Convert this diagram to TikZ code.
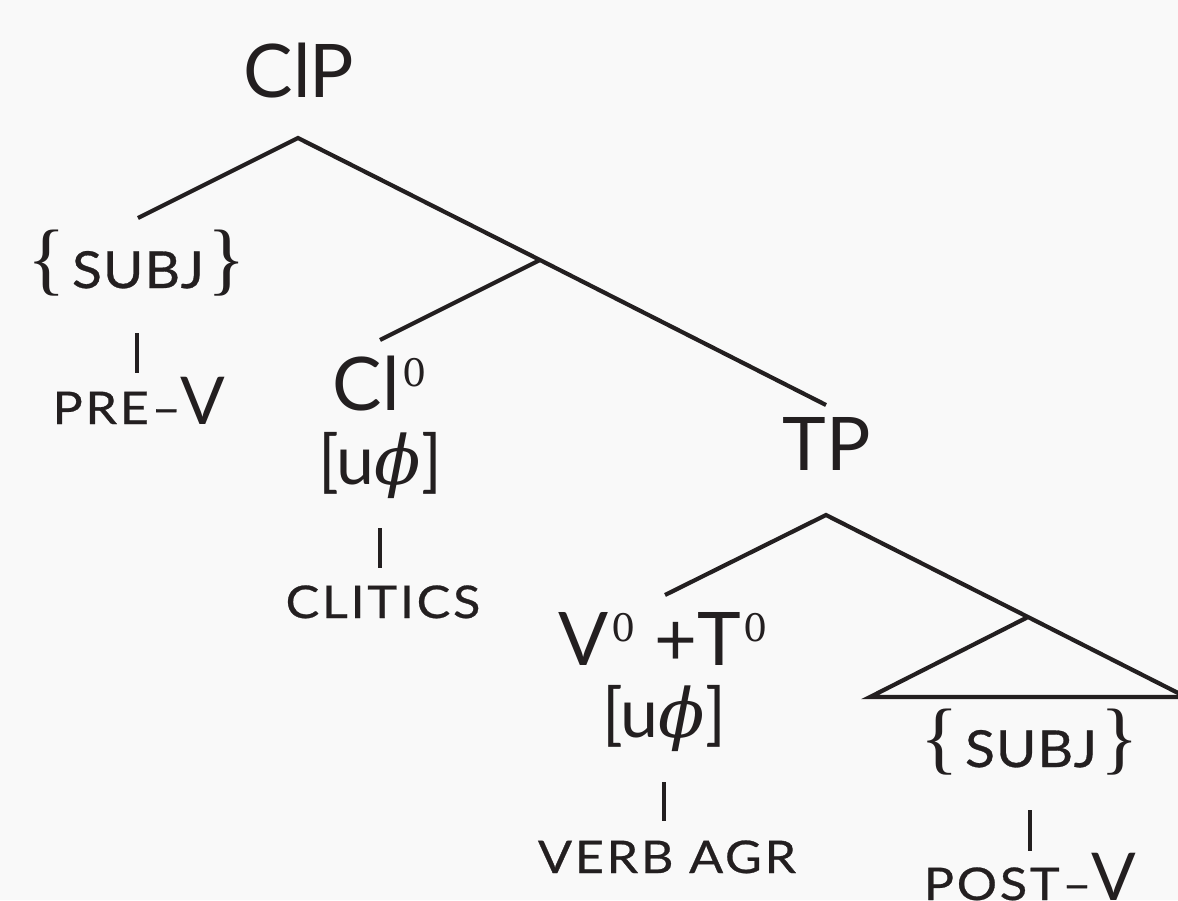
\documentclass[tikz,border=0pt]{standalone}
\usepackage{fontspec}
\setmainfont{Lato}
\newfontfamily\phifont{DejaVu Serif}
\newfontfamily\serfont{DejaVu Serif}
\newfontfamily\brfont{Liberation Serif}
\definecolor{bg}{RGB}{249,249,249}
\definecolor{ink}{RGB}{35,31,32}
\newcommand{\zsup}{{\serfont\fontsize{38}{40}\selectfont\kern3pt\raisebox{24pt}{0}}}
\newcommand{\uphi}{[u{\phifont\itshape\fontsize{68}{70}\selectfont ϕ}]}
\newcommand{\lbr}{{\brfont\fontsize{80}{80}\selectfont\raisebox{3pt}{\{}}\kern6pt}
\newcommand{\rbr}{\kern4pt{\brfont\fontsize{80}{80}\selectfont\raisebox{3pt}{\}}}}
\begin{document}
\begin{tikzpicture}[x=1pt,y=-1pt,
  every node/.style={inner sep=0pt,outer sep=0pt,text=ink,anchor=base},
  branch/.style={draw=ink,line width=4.2pt},
  catlab/.style={font=\fontsize{74}{80}\selectfont},
  featlab/.style={font=\fontsize{68}{72}\selectfont},
  subjlab/.style={font=\fontsize{51}{60}\selectfont\addfontfeatures{FakeStretch=1.08,FakeBold=0.6,LetterSpace=2}},
  smclab/.style={font=\fontsize{45}{50}\selectfont\addfontfeatures{FakeStretch=1.12,FakeBold=0.6,LetterSpace=6}},
]
\fill[bg] (0,0) rectangle (1178,900);
\useasboundingbox (0,0) rectangle (1178,900);

% nodes
\node[catlab] (clp) at (299,97) {ClP};
\node[subjlab] (subj1) at (137,288) {\lbr SUBJ\rbr};
\node[smclab] (prev) at (139,424) {PRE–{\fontsize{66}{70}\selectfont\addfontfeatures{FakeStretch=1,FakeBold=0} V}};
\node[catlab] (cl0) at (380,410) {Cl\zsup};
\node[featlab] (uf1) at (380,484) {\uphi};
\node[smclab] (clit) at (383,618) {CLITICS};
\node[catlab] (tp) at (827,470) {TP};
\node[catlab] (vt) at (663,665) {V\zsup\ +T\zsup};
\node[featlab] (uf2) at (664,737) {\uphi};
\node[smclab] (agr) at (667,873) {VERB AGR};
\node[subjlab] (subj2) at (1030,767) {\lbr SUBJ\rbr};
\node[smclab] (postv) at (1030,900) {POST–{\fontsize{66}{70}\selectfont\addfontfeatures{FakeStretch=1,FakeBold=0} V}};

% branch points
\coordinate (a1) at (298,138);
\coordinate (l1) at (138,218);
\coordinate (m1) at (540,260);
\coordinate (r1) at (826,405);
\coordinate (l2) at (380,340);
\coordinate (b1t) at (137,333); \coordinate (b1b) at (137,373);
\coordinate (b2t) at (380,528); \coordinate (b2b) at (380,568);
\coordinate (a2) at (826,515);
\coordinate (l3) at (665,595);
\coordinate (m2) at (1028,617);
\coordinate (tl) at (870,697);
\coordinate (tr) at (1186,697);
\coordinate (b3t) at (664,782); \coordinate (b3b) at (664,821);
\coordinate (b4t) at (1030,810); \coordinate (b4b) at (1030,851);

\draw[branch] (l1) -- (a1) -- (m1) -- (r1);
\draw[branch] (m1) -- (l2);
\draw[branch] (b1t) -- (b1b);
\draw[branch] (b2t) -- (b2b);
\draw[branch] (l3) -- (a2) -- (m2) -- (tr);
\draw[branch] (m2) -- (tl) -- (tr);
\draw[branch] (b3t) -- (b3b);
\draw[branch] (b4t) -- (b4b);
\end{tikzpicture}
\end{document}
